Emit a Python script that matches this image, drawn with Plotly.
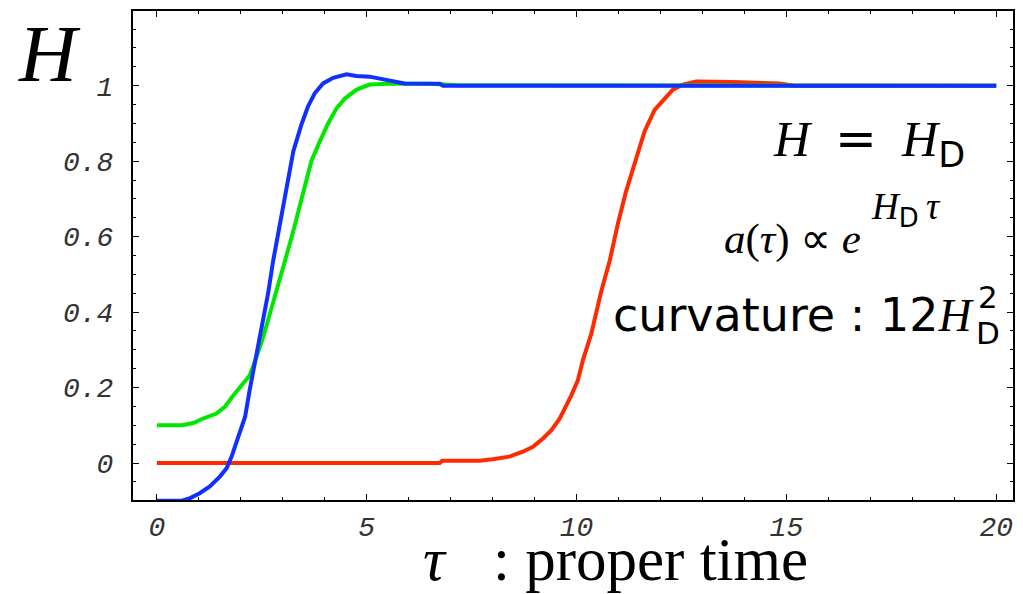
import plotly.graph_objects as go

# ---------------- data ----------------
tau_red = [0, 6.74, 6.8, 7.69, 8.0, 8.4, 8.72, 8.96, 9.2, 9.4, 9.6, 9.75, 9.87,
           10.03, 10.15, 10.35, 10.59, 10.79, 10.98, 11.18, 11.42, 11.62, 11.86,
           12.1, 12.29, 12.53, 12.85, 13.72, 14.83, 15.2, 20]
H_red = [0, 0, 0.006, 0.006, 0.01, 0.017, 0.03, 0.043, 0.065, 0.087, 0.118, 0.149,
         0.178, 0.219, 0.272, 0.342, 0.456, 0.536, 0.632, 0.72, 0.808, 0.879, 0.936,
         0.966, 0.989, 1.003, 1.011, 1.01, 1.006, 1.0, 1.0]

tau_green = [0, 0.6, 0.87, 1.1, 1.42, 1.62, 1.82, 2.06, 2.21, 2.37, 2.53, 2.69,
             2.85, 3.05, 3.25, 3.48, 3.68, 3.88, 4.08, 4.28, 4.48, 4.75, 5.07,
             5.5, 6.5, 7.2, 20]
H_green = [0.1, 0.1, 0.106, 0.118, 0.131, 0.149, 0.179, 0.21, 0.232, 0.28, 0.333,
           0.395, 0.455, 0.535, 0.615, 0.712, 0.8, 0.852, 0.9, 0.94, 0.966, 0.989,
           1.003, 1.005, 1.005, 1.001, 1.0]

tau_blue = [0, 0.6, 0.79, 1.02, 1.26, 1.5, 1.66, 1.78, 1.94, 2.1, 2.21, 2.33, 2.45,
            2.57, 2.65, 2.77, 2.93, 3.09, 3.25, 3.44, 3.6, 3.76, 3.96, 4.2, 4.52,
            4.75, 5.07, 5.4, 5.9, 6.74, 6.82, 20]
H_blue = [-0.1, -0.1, -0.093, -0.08, -0.062, -0.036, -0.014, 0.017, 0.07, 0.122,
          0.193, 0.263, 0.333, 0.404, 0.45, 0.536, 0.64, 0.729, 0.826, 0.896, 0.945,
          0.98, 1.006, 1.021, 1.03, 1.026, 1.024, 1.016, 1.006, 1.005, 1.0, 1.0]

x_tickvals = [0, 5, 10, 15, 20]
x_ticktext = ["0", "5", "10", "15", "20"]
y_tickvals = [0, 0.2, 0.4, 0.6, 0.8, 1.0]
y_ticktext = ["0", "0.2", "0.4", "0.6", "0.8", "1"]

# ---------------- layout helpers ----------------
OFF = 8                      # page body margin of the html page
W, HGT = 1023 - OFF, 594 - OFF
ML, MR, MT, MB = 133 - OFF, 10, 9 - OFF, 94
PW, PH = W - ML - MR, HGT - MT - MB


def px(x):                   # page pixel -> paper x
    return (x - OFF - ML) / PW


def py(y):                   # page pixel -> paper y
    return (HGT - MB - (y - OFF)) / PH


SERIF = "Liberation Serif"
SANS = "DejaVu Sans"
MONO = "Liberation Mono"

fig = go.Figure()
for xs, ys, col in [(tau_red, H_red, "#ff2a00"),
                    (tau_green, H_green, "#00e800"),
                    (tau_blue, H_blue, "#1030ff")]:
    fig.add_trace(go.Scatter(x=xs, y=ys, mode="lines",
                             line=dict(color=col, width=4),
                             showlegend=False, hoverinfo="skip"))

axis_common = dict(showline=True, linecolor="black", linewidth=2, mirror="ticks",
                   ticks="inside", tickcolor="black", tickwidth=1.3,
                   showgrid=False, zeroline=False,
                   tickfont=dict(family=MONO, size=28, color="#333", style="italic"))

fig.update_xaxes(range=[-0.57, 20.4], tickvals=x_tickvals, ticktext=x_ticktext,
                 ticklen=6, ticklabelstandoff=0,
                 minor=dict(dtick=1, ticks="inside", ticklen=3, tickcolor="black", tickwidth=1),
                 **axis_common)
fig.update_yaxes(range=[-0.098, 1.198], tickvals=y_tickvals, ticktext=y_ticktext,
                 ticklen=6, ticklabelstandoff=12,
                 minor=dict(dtick=0.05, tick0=0, ticks="inside", ticklen=3, tickcolor="black", tickwidth=1),
                 **axis_common)

SP = "\u00a0"
THIN = "\u2009"
DSANS = "<span style='font-family:DejaVu Sans'>D</span>"
ann = []
# big H axis label
ann.append(dict(text="<i>H</i>", x=px(49), y=py(52), xanchor="center", yanchor="middle",
                font=dict(family=SERIF, size=80, color="black")))
# x axis title
ann.append(dict(text="<i>τ</i>", x=px(435), y=py(560), xanchor="center", yanchor="middle",
                font=dict(family=SERIF, size=61, color="black")))
ann.append(dict(text=":" + SP + "proper time", x=px(491), y=py(560),
                xanchor="left", yanchor="middle",
                font=dict(family=SERIF, size=61, color="black")))
# H = H_D
ann.append(dict(text="<i>H</i>" + SP * 2 + "<span style='font-family:DejaVu Sans'>=</span>" + SP * 2
                + "<i>H</i><sub>" + DSANS + "</sub>",
                x=px(967), y=py(141), xanchor="right", yanchor="middle",
                font=dict(family=SERIF, size=50, color="black")))
# a(tau) ∝ e^{H_D tau}
ann.append(dict(text="<i>a</i>(<i>τ</i>) <span style='font-family:DejaVu Sans'>∝</span> <i>e</i>",
                x=px(863), y=py(237), xanchor="right", yanchor="middle",
                font=dict(family=SERIF, size=43, color="black")))
ann.append(dict(text="<i>H</i><sub>" + DSANS + "</sub>" + THIN + "<i>τ</i>",
                x=px(869), y=py(208), xanchor="left", yanchor="middle",
                font=dict(family=SERIF, size=37, color="black")))
# curvature : 12 H_D^2
ann.append(dict(text="curvature" + SP + ":" + SP + "12<span style='font-family:Liberation Serif'><i>H</i></span>",
                x=px(976), y=py(314), xanchor="right", yanchor="middle",
                font=dict(family=SANS, size=46, color="black")))
ann.append(dict(text="2", x=px(976), y=py(296), xanchor="left", yanchor="middle",
                font=dict(family=SANS, size=31, color="black")))
ann.append(dict(text="D", x=px(974), y=py(332), xanchor="left", yanchor="middle",
                font=dict(family=SANS, size=31, color="black")))

for a in ann:
    a.update(xref="paper", yref="paper", showarrow=False)

fig.update_layout(width=W, height=HGT, margin=dict(l=ML, r=MR, t=MT, b=MB),
                  paper_bgcolor="white", plot_bgcolor="white",
                  annotations=ann)

fig.write_html("out.html")
